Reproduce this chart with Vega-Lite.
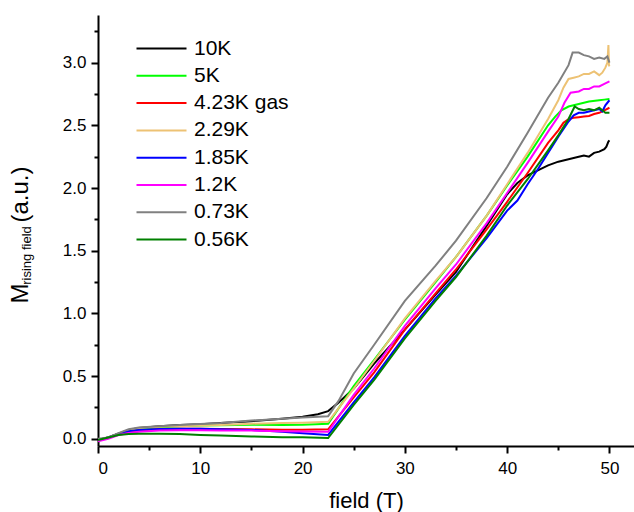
{
  "$schema": "https://vega.github.io/schema/vega-lite/v6.json",
  "autosize": {"type": "none"},
  "width": 536,
  "height": 431,
  "padding": {"left": 98, "top": 15, "right": 0, "bottom": 66},
  "background": "white",
  "config": {
    "font": "Liberation Sans",
    "view": {"stroke": null},
    "axis": {"grid": false, "labelColor": "black", "tickColor": "black", "domainColor": "black", "titleColor": "black", "titleFontWeight": "normal"}
  },
  "datasets": {
    "curves": [
      {"series":"10K","field":0,"M":-0.01},{"series":"10K","field":1,"M":0.01},{"series":"10K","field":2,"M":0.04},{"series":"10K","field":3,"M":0.07},{"series":"10K","field":4,"M":0.085},{"series":"10K","field":6,"M":0.1},{"series":"10K","field":8,"M":0.11},{"series":"10K","field":10,"M":0.115},{"series":"10K","field":12,"M":0.125},{"series":"10K","field":15,"M":0.14},{"series":"10K","field":18,"M":0.16},{"series":"10K","field":20,"M":0.175},{"series":"10K","field":21.5,"M":0.195},{"series":"10K","field":22.5,"M":0.22},{"series":"10K","field":23.4,"M":0.28},{"series":"10K","field":25,"M":0.4},{"series":"10K","field":27,"M":0.6},{"series":"10K","field":30,"M":0.87},{"series":"10K","field":33,"M":1.15},{"series":"10K","field":35,"M":1.33},{"series":"10K","field":38,"M":1.7},{"series":"10K","field":40,"M":1.95},{"series":"10K","field":41,"M":2.04},{"series":"10K","field":42,"M":2.1},{"series":"10K","field":43,"M":2.14},{"series":"10K","field":44,"M":2.18},{"series":"10K","field":45,"M":2.21},{"series":"10K","field":46,"M":2.23},{"series":"10K","field":47,"M":2.25},{"series":"10K","field":47.5,"M":2.26},{"series":"10K","field":48,"M":2.25},{"series":"10K","field":48.5,"M":2.28},{"series":"10K","field":49,"M":2.29},{"series":"10K","field":49.5,"M":2.31},{"series":"10K","field":49.7,"M":2.33},{"series":"10K","field":49.9,"M":2.37},{"series":"10K","field":50,"M":2.38},

      {"series":"5K","field":0,"M":-0.01},{"series":"5K","field":1,"M":0.01},{"series":"5K","field":2,"M":0.04},{"series":"5K","field":3,"M":0.065},{"series":"5K","field":4,"M":0.08},{"series":"5K","field":6,"M":0.09},{"series":"5K","field":8,"M":0.1},{"series":"5K","field":10,"M":0.105},{"series":"5K","field":12,"M":0.108},{"series":"5K","field":15,"M":0.112},{"series":"5K","field":18,"M":0.11},{"series":"5K","field":20,"M":0.112},{"series":"5K","field":22.5,"M":0.12},{"series":"5K","field":25,"M":0.42},{"series":"5K","field":27,"M":0.63},{"series":"5K","field":30,"M":0.95},{"series":"5K","field":33,"M":1.25},{"series":"5K","field":35,"M":1.45},{"series":"5K","field":38,"M":1.78},{"series":"5K","field":40,"M":2.02},{"series":"5K","field":42,"M":2.25},{"series":"5K","field":44,"M":2.5},{"series":"5K","field":44.7,"M":2.57},{"series":"5K","field":45.3,"M":2.62},{"series":"5K","field":46,"M":2.65},{"series":"5K","field":47,"M":2.67},{"series":"5K","field":48,"M":2.69},{"series":"5K","field":49,"M":2.7},{"series":"5K","field":49.5,"M":2.705},{"series":"5K","field":50,"M":2.71},

      {"series":"4.23K gas","field":0,"M":-0.01},{"series":"4.23K gas","field":1,"M":0.01},{"series":"4.23K gas","field":2,"M":0.035},{"series":"4.23K gas","field":3,"M":0.055},{"series":"4.23K gas","field":4,"M":0.065},{"series":"4.23K gas","field":6,"M":0.075},{"series":"4.23K gas","field":8,"M":0.08},{"series":"4.23K gas","field":10,"M":0.08},{"series":"4.23K gas","field":12,"M":0.078},{"series":"4.23K gas","field":15,"M":0.075},{"series":"4.23K gas","field":18,"M":0.072},{"series":"4.23K gas","field":20,"M":0.072},{"series":"4.23K gas","field":22.5,"M":0.075},{"series":"4.23K gas","field":25,"M":0.33},{"series":"4.23K gas","field":27,"M":0.53},{"series":"4.23K gas","field":30,"M":0.87},{"series":"4.23K gas","field":33,"M":1.16},{"series":"4.23K gas","field":35,"M":1.35},{"series":"4.23K gas","field":38,"M":1.67},{"series":"4.23K gas","field":40,"M":1.89},{"series":"4.23K gas","field":42,"M":2.12},{"series":"4.23K gas","field":44,"M":2.36},{"series":"4.23K gas","field":45,"M":2.46},{"series":"4.23K gas","field":45.5,"M":2.52},{"series":"4.23K gas","field":46,"M":2.55},{"series":"4.23K gas","field":46.5,"M":2.56},{"series":"4.23K gas","field":47,"M":2.565},{"series":"4.23K gas","field":47.5,"M":2.57},{"series":"4.23K gas","field":48,"M":2.575},{"series":"4.23K gas","field":48.5,"M":2.59},{"series":"4.23K gas","field":49,"M":2.6},{"series":"4.23K gas","field":49.5,"M":2.62},{"series":"4.23K gas","field":50,"M":2.64},

      {"series":"2.29K","field":0,"M":-0.01},{"series":"2.29K","field":1,"M":0.01},{"series":"2.29K","field":2,"M":0.04},{"series":"2.29K","field":3,"M":0.07},{"series":"2.29K","field":4,"M":0.085},{"series":"2.29K","field":6,"M":0.095},{"series":"2.29K","field":8,"M":0.1},{"series":"2.29K","field":10,"M":0.105},{"series":"2.29K","field":12,"M":0.11},{"series":"2.29K","field":15,"M":0.12},{"series":"2.29K","field":18,"M":0.125},{"series":"2.29K","field":20,"M":0.128},{"series":"2.29K","field":22.5,"M":0.135},{"series":"2.29K","field":25,"M":0.4},{"series":"2.29K","field":27,"M":0.62},{"series":"2.29K","field":30,"M":0.96},{"series":"2.29K","field":33,"M":1.26},{"series":"2.29K","field":35,"M":1.45},{"series":"2.29K","field":38,"M":1.78},{"series":"2.29K","field":40,"M":2.03},{"series":"2.29K","field":42,"M":2.28},{"series":"2.29K","field":44,"M":2.55},{"series":"2.29K","field":45,"M":2.7},{"series":"2.29K","field":45.5,"M":2.8},{"series":"2.29K","field":46,"M":2.87},{"series":"2.29K","field":46.5,"M":2.88},{"series":"2.29K","field":47,"M":2.89},{"series":"2.29K","field":47.5,"M":2.91},{"series":"2.29K","field":48,"M":2.91},{"series":"2.29K","field":48.5,"M":2.93},{"series":"2.29K","field":49,"M":2.9},{"series":"2.29K","field":49.3,"M":2.92},{"series":"2.29K","field":49.6,"M":2.96},{"series":"2.29K","field":49.8,"M":3.0},{"series":"2.29K","field":49.9,"M":3.14},{"series":"2.29K","field":49.95,"M":2.98},{"series":"2.29K","field":50,"M":2.97},

      {"series":"1.85K","field":0,"M":-0.01},{"series":"1.85K","field":1,"M":0.01},{"series":"1.85K","field":2,"M":0.04},{"series":"1.85K","field":3,"M":0.06},{"series":"1.85K","field":4,"M":0.07},{"series":"1.85K","field":6,"M":0.078},{"series":"1.85K","field":8,"M":0.08},{"series":"1.85K","field":10,"M":0.08},{"series":"1.85K","field":12,"M":0.075},{"series":"1.85K","field":15,"M":0.07},{"series":"1.85K","field":18,"M":0.055},{"series":"1.85K","field":20,"M":0.043},{"series":"1.85K","field":22.5,"M":0.03},{"series":"1.85K","field":25,"M":0.29},{"series":"1.85K","field":27,"M":0.49},{"series":"1.85K","field":30,"M":0.82},{"series":"1.85K","field":33,"M":1.12},{"series":"1.85K","field":35,"M":1.3},{"series":"1.85K","field":38,"M":1.6},{"series":"1.85K","field":40,"M":1.82},{"series":"1.85K","field":41,"M":1.9},{"series":"1.85K","field":42,"M":2.03},{"series":"1.85K","field":43,"M":2.15},{"series":"1.85K","field":44,"M":2.28},{"series":"1.85K","field":45,"M":2.41},{"series":"1.85K","field":46,"M":2.53},{"series":"1.85K","field":46.5,"M":2.58},{"series":"1.85K","field":47,"M":2.6},{"series":"1.85K","field":47.5,"M":2.6},{"series":"1.85K","field":48,"M":2.61},{"series":"1.85K","field":48.5,"M":2.62},{"series":"1.85K","field":49,"M":2.63},{"series":"1.85K","field":49.3,"M":2.61},{"series":"1.85K","field":49.6,"M":2.66},{"series":"1.85K","field":49.8,"M":2.68},{"series":"1.85K","field":50,"M":2.7},

      {"series":"1.2K","field":0,"M":-0.02},{"series":"1.2K","field":1,"M":0.0},{"series":"1.2K","field":2,"M":0.03},{"series":"1.2K","field":3,"M":0.045},{"series":"1.2K","field":4,"M":0.055},{"series":"1.2K","field":6,"M":0.065},{"series":"1.2K","field":8,"M":0.068},{"series":"1.2K","field":10,"M":0.067},{"series":"1.2K","field":12,"M":0.065},{"series":"1.2K","field":15,"M":0.065},{"series":"1.2K","field":18,"M":0.06},{"series":"1.2K","field":20,"M":0.058},{"series":"1.2K","field":22.5,"M":0.055},{"series":"1.2K","field":25,"M":0.35},{"series":"1.2K","field":27,"M":0.56},{"series":"1.2K","field":30,"M":0.9},{"series":"1.2K","field":33,"M":1.2},{"series":"1.2K","field":35,"M":1.39},{"series":"1.2K","field":38,"M":1.72},{"series":"1.2K","field":40,"M":1.96},{"series":"1.2K","field":42,"M":2.2},{"series":"1.2K","field":44,"M":2.45},{"series":"1.2K","field":45,"M":2.57},{"series":"1.2K","field":45.6,"M":2.68},{"series":"1.2K","field":46.2,"M":2.76},{"series":"1.2K","field":47,"M":2.77},{"series":"1.2K","field":47.5,"M":2.79},{"series":"1.2K","field":48,"M":2.79},{"series":"1.2K","field":48.5,"M":2.81},{"series":"1.2K","field":49,"M":2.81},{"series":"1.2K","field":49.5,"M":2.83},{"series":"1.2K","field":50,"M":2.85},

      {"series":"0.73K","field":0,"M":0.0},{"series":"0.73K","field":1,"M":0.01},{"series":"0.73K","field":2,"M":0.045},{"series":"0.73K","field":3,"M":0.075},{"series":"0.73K","field":4,"M":0.09},{"series":"0.73K","field":6,"M":0.1},{"series":"0.73K","field":8,"M":0.11},{"series":"0.73K","field":10,"M":0.117},{"series":"0.73K","field":12,"M":0.125},{"series":"0.73K","field":15,"M":0.145},{"series":"0.73K","field":18,"M":0.16},{"series":"0.73K","field":20,"M":0.17},{"series":"0.73K","field":22.5,"M":0.18},{"series":"0.73K","field":23.5,"M":0.3},{"series":"0.73K","field":25,"M":0.52},{"series":"0.73K","field":27,"M":0.75},{"series":"0.73K","field":30,"M":1.1},{"series":"0.73K","field":33,"M":1.38},{"series":"0.73K","field":35,"M":1.58},{"series":"0.73K","field":38,"M":1.92},{"series":"0.73K","field":40,"M":2.17},{"series":"0.73K","field":42,"M":2.44},{"series":"0.73K","field":44,"M":2.72},{"series":"0.73K","field":45,"M":2.84},{"series":"0.73K","field":46,"M":2.98},{"series":"0.73K","field":46.4,"M":3.08},{"series":"0.73K","field":47,"M":3.08},{"series":"0.73K","field":47.5,"M":3.06},{"series":"0.73K","field":48,"M":3.05},{"series":"0.73K","field":48.5,"M":3.03},{"series":"0.73K","field":49,"M":3.04},{"series":"0.73K","field":49.5,"M":3.03},{"series":"0.73K","field":49.8,"M":3.05},{"series":"0.73K","field":50,"M":3.0},

      {"series":"0.56K","field":0,"M":-0.01},{"series":"0.56K","field":1,"M":0.01},{"series":"0.56K","field":2,"M":0.03},{"series":"0.56K","field":3,"M":0.038},{"series":"0.56K","field":4,"M":0.04},{"series":"0.56K","field":6,"M":0.04},{"series":"0.56K","field":8,"M":0.037},{"series":"0.56K","field":10,"M":0.03},{"series":"0.56K","field":12,"M":0.025},{"series":"0.56K","field":15,"M":0.018},{"series":"0.56K","field":18,"M":0.012},{"series":"0.56K","field":20,"M":0.012},{"series":"0.56K","field":22.5,"M":0.005},{"series":"0.56K","field":25,"M":0.27},{"series":"0.56K","field":27,"M":0.47},{"series":"0.56K","field":30,"M":0.8},{"series":"0.56K","field":33,"M":1.1},{"series":"0.56K","field":35,"M":1.29},{"series":"0.56K","field":38,"M":1.62},{"series":"0.56K","field":40,"M":1.86},{"series":"0.56K","field":42,"M":2.07},{"series":"0.56K","field":44,"M":2.3},{"series":"0.56K","field":45,"M":2.42},{"series":"0.56K","field":46,"M":2.55},{"series":"0.56K","field":46.6,"M":2.65},{"series":"0.56K","field":47,"M":2.63},{"series":"0.56K","field":47.5,"M":2.62},{"series":"0.56K","field":48,"M":2.63},{"series":"0.56K","field":48.5,"M":2.62},{"series":"0.56K","field":49,"M":2.64},{"series":"0.56K","field":49.3,"M":2.62},{"series":"0.56K","field":49.6,"M":2.6},{"series":"0.56K","field":50,"M":2.6}
    ]
  },
  "data": {"name": "curves"},
  "resolve": {"axis": {"x": "independent", "y": "independent"}},
  "layer": [
    {
      "transform": [{"filter": {"field": "series", "oneOf": ["10K", "5K", "4.23K gas"]}}],
      "mark": {"type": "line", "strokeWidth": 2, "clip": true},
      "encoding": {
        "x": {"field": "field", "type": "quantitative",
          "scale": {"domain": [0, 52.4], "nice": false, "zero": false},
          "axis": {"orient": "bottom", "values": [0, 10, 20, 30, 40, 50], "format": "d", "labelFontSize": 17, "labelPadding": 7, "tickSize": 7, "tickWidth": 2, "domainWidth": 2, "title": "field (T)", "titleFontSize": 22, "titleBaseline": "alphabetic", "titleY": 61}},
        "y": {"field": "M", "type": "quantitative",
          "scale": {"domain": [-0.058, 3.38], "nice": false, "zero": false},
          "axis": {"orient": "left", "values": [0, 0.5, 1, 1.5, 2, 2.5, 3], "format": ".1f", "labelFontSize": 17, "labelPadding": 5, "tickSize": 7, "tickWidth": 2, "domainWidth": 2, "title": "M", "titleFontSize": 24, "titleAngle": -90, "titleAlign": "center", "titleBaseline": "alphabetic", "titleX": -71, "titleY": 278}},
        "color": {"field": "series", "type": "nominal",
          "scale": {"domain": ["10K", "5K", "4.23K gas", "2.29K", "1.85K", "1.2K", "0.73K", "0.56K"], "range": ["#000000", "#00FF00", "#FF0000", "#EDC274", "#0000FF", "#FF00FF", "#808080", "#008000"]},
          "legend": {"orient": "none", "legendX": 53, "legendY": 23, "title": null, "padding": 0, "symbolType": "M-5,0H5", "symbolSize": 100, "symbolStrokeWidth": 2, "labelFontSize": 21, "labelOffset": 22, "rowPadding": 5.3, "labelColor": "black"}}
      }
    },
    {
      "transform": [{"filter": {"field": "series", "oneOf": ["2.29K", "1.85K", "1.2K"]}}],
      "mark": {"type": "line", "strokeWidth": 2, "clip": true},
      "encoding": {
        "x": {"field": "field", "type": "quantitative",
          "scale": {"domain": [0, 52.4], "nice": false, "zero": false},
          "axis": {"orient": "bottom", "values": [5, 15, 25, 35, 45], "labels": false, "domain": false, "tickSize": 4, "tickWidth": 2, "title": null}},
        "y": {"field": "M", "type": "quantitative",
          "scale": {"domain": [-0.058, 3.38], "nice": false, "zero": false},
          "axis": {"orient": "left", "values": [0.25, 0.75, 1.25, 1.75, 2.25, 2.75, 3.25], "labels": false, "domain": false, "tickSize": 4, "tickWidth": 2, "title": "rising field", "titleFontSize": 13, "titleAngle": -90, "titleAlign": "center", "titleBaseline": "alphabetic", "titleX": -68, "titleY": 240}},
        "color": {"field": "series", "type": "nominal",
          "scale": {"domain": ["10K", "5K", "4.23K gas", "2.29K", "1.85K", "1.2K", "0.73K", "0.56K"], "range": ["#000000", "#00FF00", "#FF0000", "#EDC274", "#0000FF", "#FF00FF", "#808080", "#008000"]},
          "legend": {"orient": "none", "legendX": 53, "legendY": 23, "title": null, "padding": 0, "symbolType": "M-5,0H5", "symbolSize": 100, "symbolStrokeWidth": 2, "labelFontSize": 21, "labelOffset": 22, "rowPadding": 5.3, "labelColor": "black"}}
      }
    },
    {
      "transform": [{"filter": {"field": "series", "oneOf": ["0.73K", "0.56K"]}}],
      "mark": {"type": "line", "strokeWidth": 2, "clip": true},
      "encoding": {
        "x": {"field": "field", "type": "quantitative",
          "scale": {"domain": [0, 52.4], "nice": false, "zero": false},
          "axis": null},
        "y": {"field": "M", "type": "quantitative",
          "scale": {"domain": [-0.058, 3.38], "nice": false, "zero": false},
          "axis": {"orient": "left", "labels": false, "ticks": false, "domain": false, "title": "(a.u.)", "titleFontSize": 24, "titleAngle": -90, "titleAlign": "center", "titleBaseline": "alphabetic", "titleX": -71, "titleY": 179}},
        "color": {"field": "series", "type": "nominal",
          "scale": {"domain": ["10K", "5K", "4.23K gas", "2.29K", "1.85K", "1.2K", "0.73K", "0.56K"], "range": ["#000000", "#00FF00", "#FF0000", "#EDC274", "#0000FF", "#FF00FF", "#808080", "#008000"]},
          "legend": {"orient": "none", "legendX": 53, "legendY": 23, "title": null, "padding": 0, "symbolType": "M-5,0H5", "symbolSize": 100, "symbolStrokeWidth": 2, "labelFontSize": 21, "labelOffset": 22, "rowPadding": 5.3, "labelColor": "black"}}
      }
    }
  ]
}
